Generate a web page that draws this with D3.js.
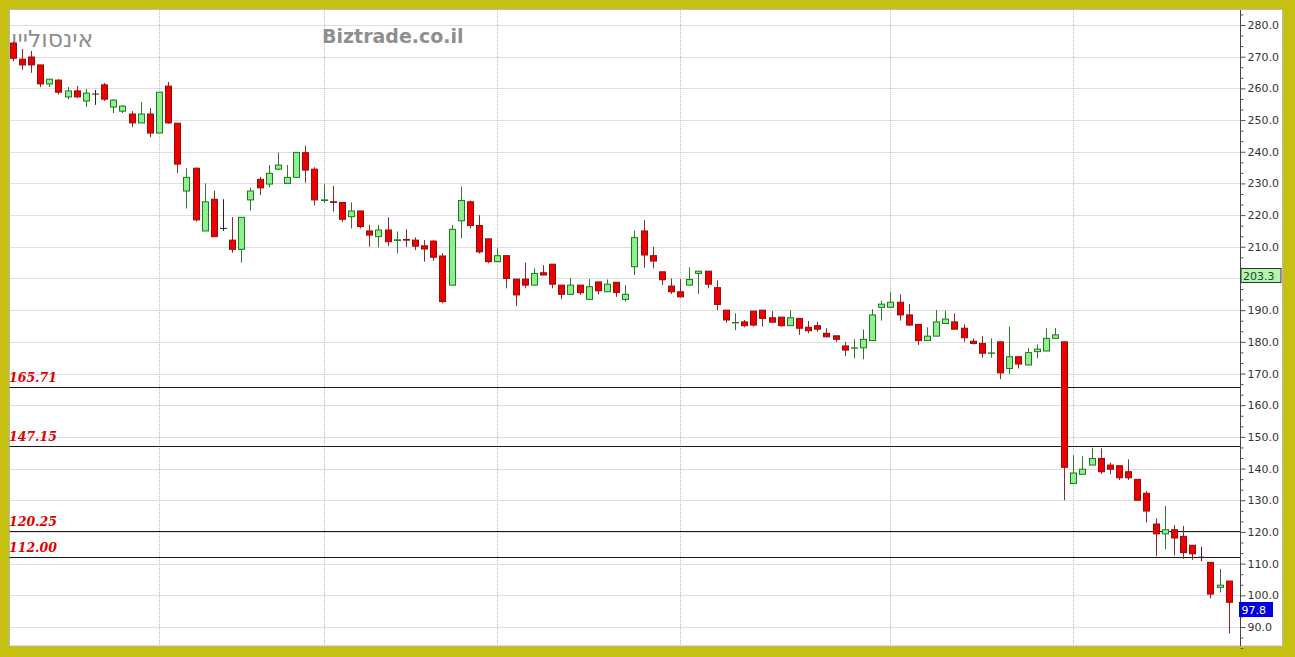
<!DOCTYPE html>
<html><head><meta charset="utf-8">
<script src="https://cdn.jsdelivr.net/npm/d3@7/dist/d3.min.js"></script>
<style>html,body{margin:0;padding:0;background:#c6c010;}svg{display:block;}</style>
</head><body>
<svg id="c" width="1295" height="657"></svg>
<script>
// ---- data ----
const title = "אינסוליין";
const brand = "Biztrade.co.il";
const opens  = [274.3,269.2,269.9,267.4,261.4,262.6,257.3,259.2,256.0,258.2,261.1,254.1,252.8,251.9,249.1,251.9,245.9,260.7,249.0,227.6,
234.8,215.0,225.0,215.8,212.1,209.2,224.8,231.3,229.8,234.5,230.0,231.9,239.7,234.5,224.6,224.2,224.0,219.5,221.3,215.0,
213.2,215.3,212.0,212.3,212.1,210.3,211.8,207.1,197.9,218.2,224.2,216.7,212.5,205.3,207.2,199.8,199.8,197.9,201.8,204.5,
197.9,195.0,197.9,193.4,198.9,195.8,198.8,193.4,203.7,215.0,207.2,202.1,197.6,195.8,197.9,201.6,202.3,197.1,190.0,186.0,
186.3,189.7,190.0,187.6,187.8,185.1,187.4,184.6,185.1,182.7,181.9,178.7,178.0,178.1,180.4,190.9,190.9,192.5,188.5,185.5,
180.4,181.8,185.8,186.3,184.3,180.2,179.5,176.4,180.0,171.6,175.3,172.7,176.9,177.1,181.1,180.0,135.3,138.2,141.1,143.2,
141.1,140.9,139.0,136.6,132.2,122.5,119.4,120.7,118.6,115.8,112.0,110.4,102.5,104.5];
const highs  = [274.7,272.4,271.8,267.4,263.0,262.9,260.4,260.8,259.8,259.5,261.7,256.6,254.7,252.8,255.7,253.8,258.8,262.0,249.1,234.8,
235.0,230.0,227.7,225.0,219.4,219.3,228.6,232.1,235.8,239.7,235.8,239.8,241.9,235.1,229.7,229.2,224.0,224.0,221.3,216.9,
216.9,219.3,214.8,215.5,213.0,212.1,212.1,208.0,216.9,229.0,224.6,220.0,212.5,209.5,207.2,199.8,205.0,203.2,204.2,204.5,
197.9,200.1,197.9,199.8,198.9,199.7,198.8,197.9,215.1,218.5,210.0,202.1,200.0,199.8,203.5,202.3,202.3,199.4,190.0,189.0,
186.9,189.7,190.0,189.7,187.8,190.0,187.4,186.6,186.3,184.3,181.9,180.0,180.8,183.9,190.3,193.0,195.6,195.0,191.9,185.5,
184.6,190.0,189.8,189.0,185.5,181.1,181.8,181.1,180.0,184.8,175.3,178.0,179.2,184.3,184.4,180.0,144.2,143.9,146.6,146.4,
141.9,140.9,142.9,136.6,132.9,124.3,128.2,122.2,121.9,115.8,115.3,110.4,108.3,104.5];
const lows   = [268.6,265.8,264.9,260.4,260.4,258.1,256.6,257.0,254.1,254.8,256.0,252.2,252.2,247.8,249.1,244.6,245.9,248.8,233.3,222.1,
218.0,215.0,213.2,215.0,208.1,205.0,221.4,226.3,228.8,234.2,230.0,231.9,230.2,223.0,223.9,221.1,217.9,215.8,215.8,210.0,
209.8,210.2,207.9,210.0,209.0,205.3,205.6,192.2,197.9,212.7,215.8,207.9,204.8,205.3,196.9,191.3,196.9,197.9,201.1,196.9,
193.4,195.0,194.8,193.4,195.0,195.8,194.2,192.7,201.1,203.4,203.2,197.9,195.1,194.0,197.9,195.1,196.9,190.0,186.0,183.7,
184.6,184.8,184.8,186.2,184.8,185.1,182.2,182.7,183.2,181.4,180.0,175.5,174.8,174.5,180.4,186.7,190.9,186.7,185.0,179.0,
180.4,181.8,185.8,184.0,180.0,179.2,175.0,175.0,168.2,169.8,171.6,172.7,174.8,177.1,181.1,130.0,135.3,138.2,141.1,138.3,
138.2,136.4,136.4,130.0,123.0,112.3,114.5,112.6,111.5,111.2,110.8,99.0,100.9,88.0];
const closes = [269.5,267.4,267.4,261.4,262.9,258.8,259.2,257.3,258.5,258.2,256.6,256.3,254.4,249.1,251.9,245.9,258.8,249.1,236.1,231.9,
218.5,224.2,213.2,215.8,209.2,219.3,227.6,228.6,233.2,235.8,231.9,239.8,234.2,224.8,224.8,224.0,218.7,221.3,216.4,213.7,
215.3,211.6,212.2,212.1,210.2,209.3,206.7,192.7,215.5,224.6,216.7,208.4,205.3,207.2,200.0,194.8,197.9,201.6,201.1,198.2,
195.0,197.9,195.5,197.4,196.1,198.2,195.6,195.0,212.9,207.4,205.5,199.6,195.8,194.2,199.7,202.3,198.2,191.8,186.9,186.1,
185.1,185.3,187.4,186.2,185.1,187.6,184.3,183.5,184.0,181.6,180.8,177.4,178.1,180.8,188.5,191.9,192.5,188.5,185.3,180.4,
181.8,186.3,187.2,184.0,181.3,179.5,176.4,176.5,170.2,175.3,173.0,176.6,177.7,181.1,182.2,140.4,138.6,139.8,143.2,139.0,
139.8,137.1,137.1,130.0,126.6,119.4,120.7,118.1,113.5,113.1,112.0,100.4,103.2,97.8];
const days = opens.map((d, i) => i + 1);
const refLevels = [165.71, 147.15, 120.25, 112.00];
const yTicks = d3.range(90, 281, 10);
const gridDays = [17, 35, 54, 74, 97, 117];
const lastMarkers = [{v: 203.3, kind: "ma"}, {v: 97.8, kind: "last"}];

// ---- layout ----
const svg = d3.select("#c");
const panel = {x0: 9, y0: 9.5, x1: 1283, y1: 646};
const plot = {l: 9.5, r: 1240, t: 10, b: 646};

svg.append("rect").attr("x", panel.x0 + 0.5).attr("y", panel.y0).attr("width", panel.x1 - panel.x0 - 1)
  .attr("height", panel.y1 - panel.y0).attr("fill", "#fff").attr("stroke", "#b8b8b8").attr("stroke-width", 1);

const x = d3.scaleLinear().domain([1, days.length]).range([12.7, 1228.7]);
const y = d3.scaleLinear().domain([90, 280]).range([627, 25]);

// horizontal grid
svg.append("g").selectAll("line").data(yTicks).join("line")
  .attr("x1", plot.l).attr("x2", plot.r)
  .attr("y1", d => Math.round(y(d)) + 0.5).attr("y2", d => Math.round(y(d)) + 0.5)
  .attr("stroke", "#bdbdbd").attr("stroke-dasharray", "1,1");
// vertical grid
svg.append("g").selectAll("line").data(gridDays).join("line")
  .attr("x1", d => Math.round(x(d)) + 0.5).attr("x2", d => Math.round(x(d)) + 0.5)
  .attr("y1", plot.t).attr("y2", plot.b)
  .attr("stroke", "#bdbdbd").attr("stroke-dasharray", "1,1");

// reference lines
const ref = svg.append("g");
ref.selectAll("line").data(refLevels).join("line")
  .attr("x1", plot.l).attr("x2", plot.r)
  .attr("y1", d => Math.round(y(d)) + 0.5).attr("y2", d => Math.round(y(d)) + 0.5)
  .attr("stroke", "#1a1a1a").attr("stroke-width", 1);
ref.selectAll("text").data(refLevels).join("text")
  .attr("x", 9).attr("y", d => y(d) - 5)
  .attr("font-family", "'DejaVu Serif', serif").attr("font-weight", "bold").attr("font-style", "italic")
  .attr("font-size", 12.5).attr("fill", "#e00000")
  .text(d => d.toFixed(2));

// titles
svg.append("text").attr("x", 11).attr("y", 47).attr("font-family", "'DejaVu Sans', sans-serif")
  .attr("font-size", 23.5).attr("fill", "#8f8f8f").text(title);
svg.append("text").attr("x", 322).attr("y", 42.5).attr("font-family", "'DejaVu Sans', sans-serif")
  .attr("font-weight", "bold").attr("font-size", 19).attr("fill", "#8f8f8f").text(brand);

// candles
const data = days.map((d, i) => ({d, o: opens[i], h: highs[i], l: lows[i], c: closes[i]}));
const col = c => c.c > c.o ? {fill: "#8ef08e", stroke: "#1e7a1e", wick: "#2a7a2a"}
               : c.c < c.o ? {fill: "#ee0000", stroke: "#9a0a0a", wick: "#8a2a2a"}
               : {fill: "#333", stroke: "#3a1a1a", wick: "#3a1a1a"};
const g = svg.append("g");
const bw = 6;
g.selectAll("line.w").data(data).join("line").attr("class", "w")
  .attr("x1", c => Math.round(x(c.d)) + 0.5).attr("x2", c => Math.round(x(c.d)) + 0.5)
  .attr("y1", c => y(c.h)).attr("y2", c => y(c.l))
  .attr("stroke", c => col(c).wick).attr("stroke-width", 1);
g.selectAll("rect").data(data).join("rect")
  .attr("x", c => Math.round(x(c.d)) - bw / 2 + 0.5)
  .attr("y", c => y(Math.max(c.o, c.c)))
  .attr("width", bw)
  .attr("height", c => Math.max(0.01, Math.abs(y(c.o) - y(c.c))))
  .attr("fill", c => col(c).fill).attr("stroke", c => col(c).stroke).attr("stroke-width", 1);

// right axis
const axisG = svg.append("g").attr("transform", `translate(${plot.r},0)`);
axisG.append("line").attr("x1", 0.5).attr("x2", 0.5).attr("y1", plot.t).attr("y2", plot.b).attr("stroke", "#444");
const minor = [];
yTicks.forEach(v => { [10/3, 20/3].forEach(o => { if (v + o < 285) minor.push(v + o); }); });
[90 - 10/3, 90 - 20/3].forEach(v => minor.push(v));
const minorAxis = d3.axisRight(y).tickValues(minor).tickFormat("").tickSize(3).tickSizeOuter(0);
axisG.append("g").attr("transform", "translate(0.5,0)").call(minorAxis)
  .call(s => s.select(".domain").remove())
  .call(s => s.selectAll("line").attr("stroke", "#555"));
// tick labels hidden behind a value marker are not drawn (as in the picture)
const hidden = v => lastMarkers.some(m => { const yy = y(m.v); return y(v) > yy - 4 && y(v) < yy + 18; });
const majorAxis = d3.axisRight(y).tickValues(yTicks)
  .tickFormat(v => hidden(v) ? "" : d3.format(".1f")(v)).tickSize(5).tickPadding(2).tickSizeOuter(0);
axisG.append("g").attr("transform", "translate(0.5,0)").call(majorAxis)
  .call(s => s.select(".domain").remove())
  .call(s => s.selectAll("line").attr("stroke", "#555"))
  .call(s => s.selectAll("text").attr("font-family", "'DejaVu Sans', sans-serif").attr("font-size", 11).attr("fill", "#333"));

// last value markers
const mk = svg.append("g");
lastMarkers.forEach(m => {
  const isMa = m.kind === "ma";
  const yy = Math.round(y(m.v)) + 0.5;
  const w = isMa ? 40 : 33;
  const x0 = isMa ? 1241 : 1239.5;
  mk.append("rect").attr("x", x0).attr("y", yy).attr("width", w).attr("height", 14)
    .attr("fill", isMa ? "#b4f5b4" : "#0000e0").attr("stroke", isMa ? "#333" : "#0000e0").attr("stroke-width", 1);
  mk.append("text").attr("x", x0 + 2).attr("y", yy + 11)
    .attr("font-family", "'DejaVu Sans', sans-serif").attr("font-size", 11)
    .attr("fill", isMa ? "#1a4a1a" : "#fff").text(m.v.toFixed(1));
});
</script>
</body></html>
